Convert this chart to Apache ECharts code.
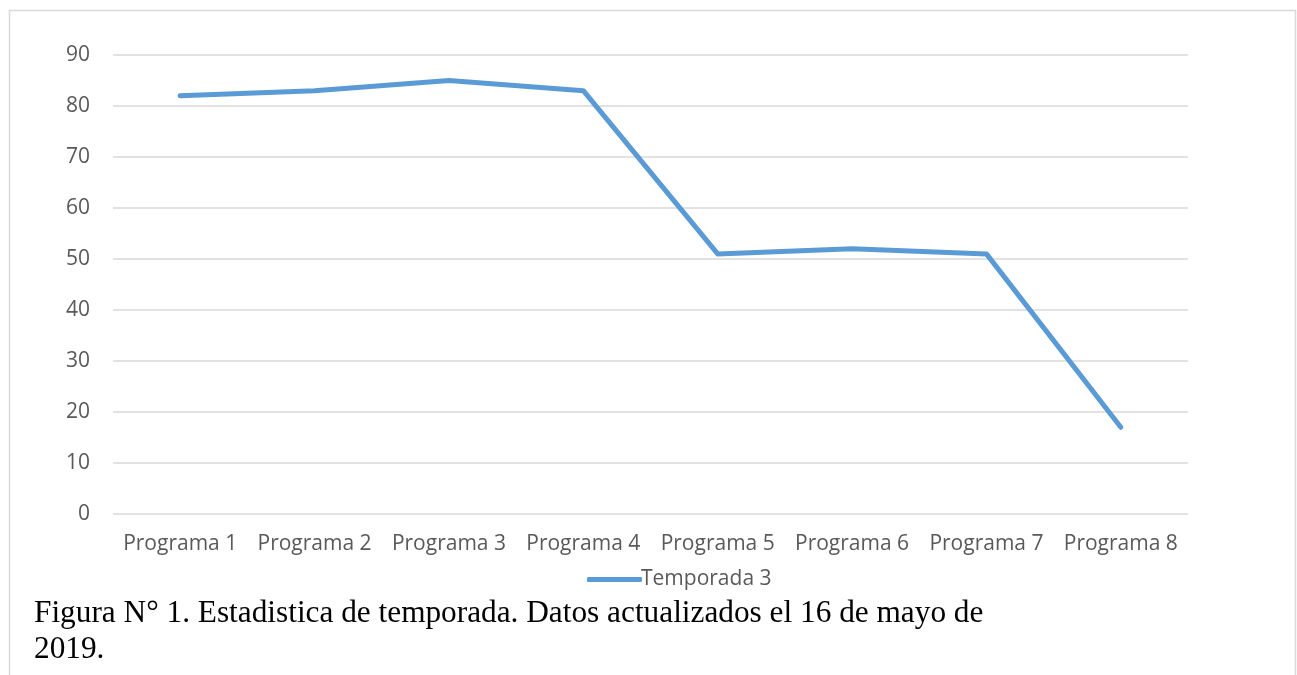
<!DOCTYPE html>
<html>
<head>
<meta charset="utf-8">
<script src="https://cdn.jsdelivr.net/npm/echarts@6/dist/echarts.min.js"></script>
<style>
  html, body { margin: 0; padding: 0; background: #fff; }
</style>
</head>
<body>
<div id="main" style="width: 1297px;height:675px;"></div>
<script type="text/javascript">
  // datos
  var programas = ['Programa 1', 'Programa 2', 'Programa 3', 'Programa 4', 'Programa 5', 'Programa 6', 'Programa 7', 'Programa 8'];
  var temporada3 = [82, 83, 85, 83, 51, 52, 51, 17];
  var nombreSerie = 'Temporada 3';
  var pie = 'Figura N° 1. Estadistica de temporada. Datos actualizados el 16 de mayo de\n2019.';

  var fuente = '"Open Sans", sans-serif';
  var option = {
    animation: false,
    graphic: [
      {
        type: 'rect',
        shape: { x: 9.5, y: 10.5, width: 1286, height: 700 },
        style: { fill: 'none', stroke: '#d9d9d9', lineWidth: 1.5 }
      },
      {
        type: 'text',
        left: 34,
        top: 596,
        style: {
          text: pie,
          font: '31.3px "Liberation Serif", "Times New Roman", serif',
          fill: '#000',
          lineHeight: 36
        }
      }
    ],
    legend: {
      data: [nombreSerie],
      left: 582,
      top: 564,
      icon: 'roundRect',
      itemWidth: 55,
      itemHeight: 5,
      itemGap: 2,
      textStyle: { color: '#595959', fontSize: 21, fontFamily: fuente, padding: [0, 0, 0, -6] }
    },
    grid: {
      left: 113,
      right: 109,
      top: 55,
      bottom: 161
    },
    xAxis: {
      type: 'category',
      data: programas,
      boundaryGap: true,
      axisLine: { show: false },
      axisTick: { show: false },
      axisLabel: { color: '#595959', fontSize: 21, fontFamily: fuente, margin: 20, interval: 0 }
    },
    yAxis: {
      type: 'value',
      min: 0,
      max: 90,
      interval: 10,
      axisLine: { show: false },
      axisTick: { show: false },
      axisLabel: { color: '#595959', fontSize: 21, fontFamily: fuente, margin: 23 },
      splitLine: { lineStyle: { color: '#d9d9d9', width: 1.5 } }
    },
    series: [
      {
        name: nombreSerie,
        type: 'line',
        data: temporada3,
        showSymbol: false,
        symbol: 'none',
        color: '#5b9bd5',
        lineStyle: { width: 5, color: '#5b9bd5', cap: 'round', join: 'round' }
      }
    ]
  };
  var myChart = echarts.init(document.getElementById('main'));
  myChart.setOption(option);
</script>
</body>
</html>
